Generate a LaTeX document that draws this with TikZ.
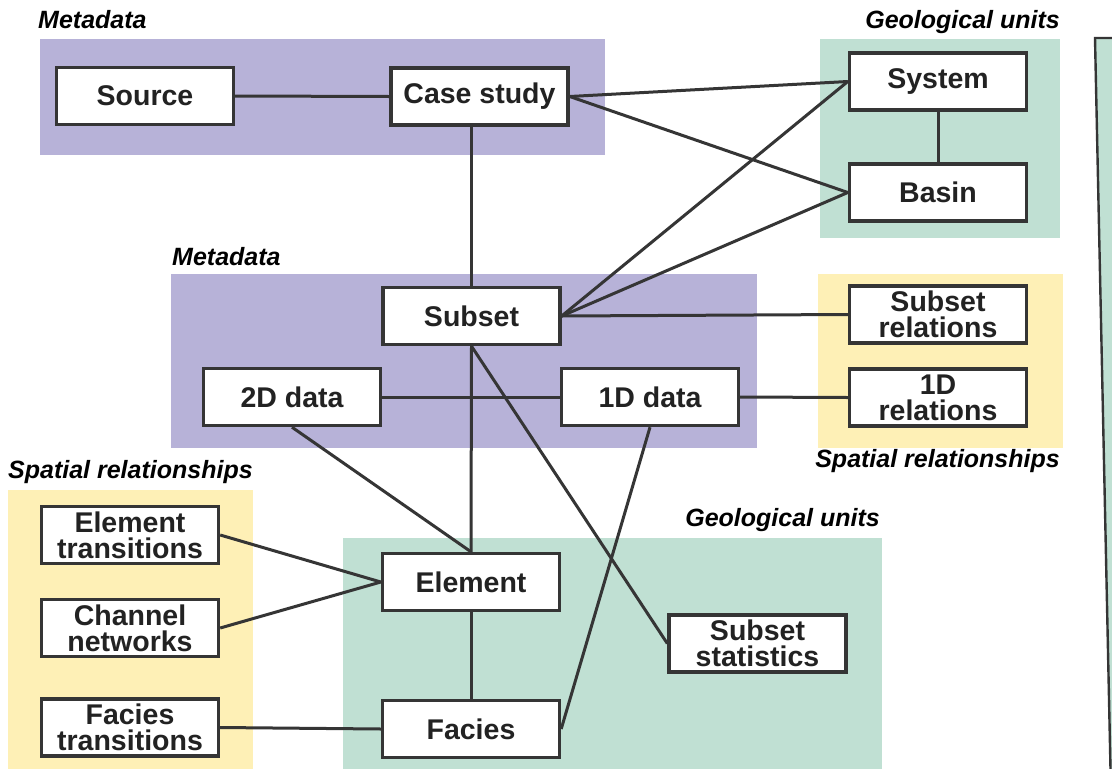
\documentclass[tikz,border=0pt]{standalone}
\usepackage{fontspec}
\setmainfont{Liberation Sans}
\definecolor{metaFill}{HTML}{B7B2D8}
\definecolor{geoFill}{HTML}{C0E0D3}
\definecolor{spatFill}{HTML}{FEF0B6}
\definecolor{edgeCol}{HTML}{353535}
\definecolor{textCol}{HTML}{222222}
\begin{document}
\begin{tikzpicture}[x=1pt,y=-1pt,
  entity/.style={draw=edgeCol, line width=3.4pt, fill=white, inner sep=0pt,
    minimum width=177pt, minimum height=57pt, align=center, text=textCol,
    font=\bfseries\fontsize{28.5}{26}\selectfont},
  conn/.style={draw=edgeCol, line width=3pt},
  grouplabel/.style={inner sep=0pt, text=black,
    font=\bfseries\itshape\fontsize{25}{25}\selectfont}]
\useasboundingbox (0,0) rectangle (1112,769);

% coloured group backgrounds
\fill[metaFill] (40,39) rectangle (605,155);
\fill[geoFill] (820,39) rectangle (1060,238);
\fill[metaFill] (171,274) rectangle (757,448);
\fill[spatFill] (818,274) rectangle (1063,448);
\fill[spatFill] (8,490) rectangle (253,769);
\fill[geoFill] (343,538) rectangle (882,769);

% edge of the neighbouring panel
\fill[geoFill] (1095,38) -- (1112,38) -- (1112,769) -- (1110.5,769) -- cycle;
\draw[draw=edgeCol, line width=2.4pt] (1112,38) -- (1095,38) -- (1110.5,769);

% group titles
\node[grouplabel, anchor=base west] (tMeta1) at (38,28) {Metadata};
\node[grouplabel, anchor=base east] (tGeo1) at (1060,28) {Geological units};
\node[grouplabel, anchor=base west] (tMeta2) at (172,265) {Metadata};
\node[grouplabel, anchor=base east] (tSpat1) at (1060,467) {Spatial relationships};
\node[grouplabel, anchor=base west] (tSpat2) at (8,478) {Spatial relationships};
\node[grouplabel, anchor=base east] (tGeo2) at (880,526) {Geological units};

% entities
\node[entity] (src) at (145,96) {Source};
\node[entity] (cs) at (479.5,96.5) {Case study};
\node[entity] (sys) at (938,81.5) {System};
\node[entity] (bas) at (938,192.5) {Basin};
\node[entity] (sub) at (471.5,316) {Subset};
\node[entity] (dtwo) at (292,397) {2D data};
\node[entity] (done) at (650,397) {1D data};
\node[entity] (subrel) at (938,314.5) {Subset\\relations};
\node[entity] (onerel) at (938,397.5) {1D\\relations};
\node[entity] (eltr) at (130,535) {Element\\transitions};
\node[entity] (chnet) at (130,628) {Channel\\networks};
\node[entity] (factr) at (130,727.5) {Facies\\transitions};
\node[entity] (el) at (471,582) {Element};
\node[entity] (fac) at (471,729) {Facies};
\node[entity] (stats) at (757.5,643.5) {Subset\\statistics};

% connectors
\draw[conn] (src.east) -- (cs.west);
\draw[conn] (cs.east) -- (sys.west);
\draw[conn] (cs.east) -- (bas.west);
\draw[conn] (sys.south) -- (bas.north);
\draw[conn] (sub.north) -- (sub.north |- cs.south);
\draw[conn] (sub.east) -- (sys.west);
\draw[conn] (sub.east) -- (bas.west);
\draw[conn] (sub.east) -- (subrel.west);
\draw[conn] (dtwo.east) -- (done.west);
\draw[conn] (done.east) -- (onerel.west);
\draw[conn] (sub.south) -- (el.north);
\draw[conn] (sub.south) -- (stats.west);
\draw[conn] (dtwo.south) -- (el.north);
\draw[conn] (done.south) -- (fac.east);
\draw[conn] (eltr.east) -- (el.west);
\draw[conn] (chnet.east) -- (el.west);
\draw[conn] (el.south) -- (fac.north);
\draw[conn] (factr.east) -- (fac.west);
\end{tikzpicture}
\end{document}
